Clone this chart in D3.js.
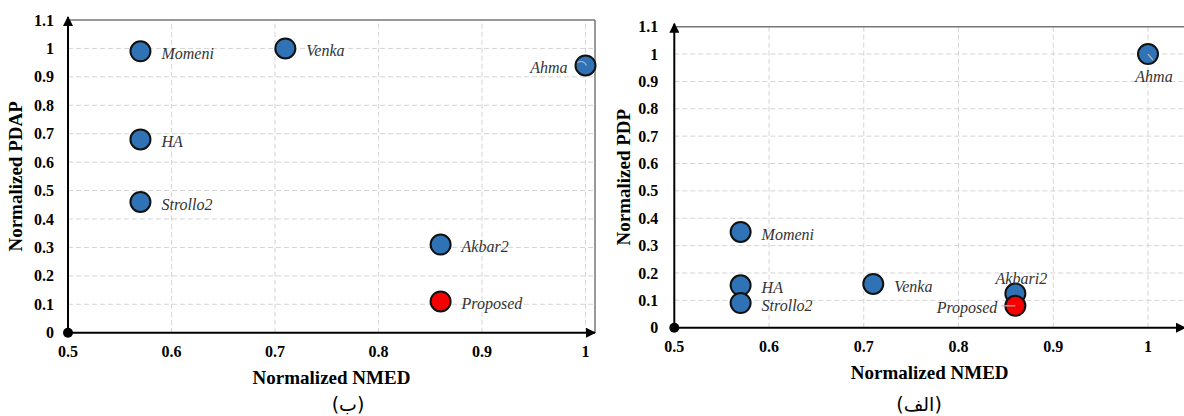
<!DOCTYPE html>
<html><head><meta charset="utf-8">
<script src="https://cdn.jsdelivr.net/npm/d3@7/dist/d3.min.js"></script>
<style>body{margin:0;background:#fff}svg{display:block}</style>
</head><body>
<svg id="c" width="1184" height="416"></svg>
<script>
// Chart (ب): Normalized PDAP vs NMED
const namesB = ["Momeni","Venka","Ahma","HA","Strollo2","Akbar2","Proposed"];
const nmedB  = [0.57, 0.71, 1.00, 0.57, 0.57, 0.86, 0.86];
const pdapB  = [0.99, 1.00, 0.94, 0.68, 0.46, 0.31, 0.11];
const placeB = ["right","right","left","right","right","right","right"];

// Chart (الف): Normalized PDP vs NMED
const namesA = ["Ahma","Momeni","HA","Strollo2","Venka","Akbari2","Proposed"];
const nmedA  = [1.00, 0.57, 0.57, 0.57, 0.71, 0.86, 0.86];
const pdpA   = [1.00, 0.35, 0.155, 0.09, 0.16, 0.125, 0.08];
const placeA = ["below","right","right","right","right","above","left"];

const xTicks = [0.5,0.6,0.7,0.8,0.9,1];
const yTicks = [0,0.1,0.2,0.3,0.4,0.5,0.6,0.7,0.8,0.9,1,1.1];
const xTitle = "Normalized NMED";
const yTitleB = "Normalized PDAP";
const yTitleA = "Normalized PDP";
const captionB = "(ب)";
const captionA = "(الف)";

const SERIF = "'Liberation Serif','Times New Roman','DejaVu Serif',serif";
const svg = d3.select("#c");
const defs = svg.append("defs");
defs.append("marker").attr("id","arr").attr("viewBox","0 0 10 10").attr("refX",9).attr("refY",5)
  .attr("markerWidth",10).attr("markerHeight",10).attr("markerUnits","userSpaceOnUse").attr("orient","auto")
  .append("path").attr("d","M0,0L10,5L0,10z").attr("fill","#000");

function drawChart(cfg){
  const g = svg.append("g");
  const x = d3.scaleLinear().domain([0.5,1]).range([cfg.x0,cfg.x1]);
  const y = d3.scaleLinear().domain([0,1.1]).range([cfg.y0,cfg.yTop]);
  const right = cfg.right;
  // grid
  g.selectAll(".hg").data(yTicks.filter(d=>d>0 && d<1.05)).join("line")
    .attr("x1",x(0.5)).attr("x2",right).attr("y1",d=>y(d)).attr("y2",d=>y(d))
    .attr("stroke","#d4d4d4").attr("stroke-width",1).attr("stroke-dasharray","5,3");
  g.selectAll(".vg").data(xTicks.filter(d=>d>0.5)).join("line")
    .attr("x1",d=>x(d)).attr("x2",d=>x(d)).attr("y1",y(0)).attr("y2",y(1.1))
    .attr("stroke","#d4d4d4").attr("stroke-width",1).attr("stroke-dasharray","5,3");
  // border top / right
  g.append("line").attr("x1",x(0.5)).attr("x2",right).attr("y1",y(1.1)).attr("y2",y(1.1))
    .attr("stroke","#777").attr("stroke-width",1.5);
  if(cfg.rightBorder) g.append("line").attr("x1",right).attr("x2",right).attr("y1",y(1.1)).attr("y2",y(0))
    .attr("stroke","#777").attr("stroke-width",1.5);
  // axes
  g.append("line").attr("x1",x(0.5)).attr("x2",right).attr("y1",y(0)).attr("y2",y(0))
    .attr("stroke","#000").attr("stroke-width",2).attr("marker-end","url(#arr)");
  g.append("line").attr("x1",x(0.5)).attr("x2",x(0.5)).attr("y1",y(0)).attr("y2",y(1.1)-3)
    .attr("stroke","#000").attr("stroke-width",2).attr("marker-end","url(#arr)");
  g.append("circle").attr("cx",x(0.5)).attr("cy",y(0)).attr("r",5).attr("fill","#000");
  // tick labels
  g.selectAll(".xt").data(xTicks).join("text")
    .attr("x",d=>x(d)).attr("y",y(0)+24).attr("text-anchor","middle")
    .attr("font-family",SERIF).attr("font-weight","bold").attr("font-size",16)
    .text(d=>d3.format("")(d));
  g.selectAll(".yt").data(yTicks).join("text")
    .attr("x",x(0.5)-cfg.yLabOff).attr("y",d=>y(d)).attr("dy","0.35em").attr("text-anchor","end")
    .attr("font-family",SERIF).attr("font-weight","bold").attr("font-size",16)
    .text(d=>d3.format("")(d));
  // titles
  g.append("text").attr("x",(x(0.5)+right)/2).attr("y",y(0)+51).attr("text-anchor","middle")
    .attr("font-family",SERIF).attr("font-weight","bold").attr("font-size",19).text(xTitle);
  g.append("text").attr("transform",`translate(${cfg.yTitleX},${(y(0)+y(1.1))/2}) rotate(-90)`)
    .attr("text-anchor","middle").attr("font-family",SERIF).attr("font-weight","bold")
    .attr("font-size",19).text(cfg.yTitle);
  g.append("text").attr("x",cfg.capX).attr("y",411).attr("text-anchor","middle")
    .attr("font-family","'DejaVu Sans',sans-serif").attr("font-size",19).text(cfg.caption);
  // points
  const data = cfg.names.map((n,i)=>({n, vx:cfg.xs[i], vy:cfg.ys[i], p:cfg.place[i]}));
  const order = data.slice().sort((a,b)=> (a.n==="Proposed") - (b.n==="Proposed"));
  g.selectAll(".pt").data(order).join("circle")
    .attr("cx",d=>x(d.vx)).attr("cy",d=>y(d.vy)).attr("r",10)
    .attr("fill",d=>d.n==="Proposed"?"#f40000":"#2f73b6").attr("stroke","#111").attr("stroke-width",2);
  // leader ticks for labels near the point
  data.filter(d=>d.n==="Ahma").forEach(d=>{
    const cx=x(d.vx), cy=y(d.vy);
    if(d.p==="left") g.append("path").attr("d",`M${cx-8},${cy-3}Q${cx-2},${cy-6} ${cx+1},${cy}`)
      .attr("fill","none").attr("stroke","#bbb").attr("stroke-width",1.2);
    else g.append("line").attr("x1",cx).attr("y1",cy).attr("x2",cx+5).attr("y2",cy+6)
      .attr("stroke","#bbb").attr("stroke-width",1.2);
  });
  data.filter(d=>d.n==="Proposed" && d.p==="left").forEach(d=>{
    const cx=x(d.vx), cy=y(d.vy);
    g.append("line").attr("x1",cx-14).attr("y1",cy).attr("x2",cx).attr("y2",cy)
      .attr("stroke","#bbb").attr("stroke-width",1.2);
  });
  g.selectAll(".lb").data(data).join("text")
    .attr("x",d=>{const cx=x(d.vx); return d.p==="right"?cx+21:d.p==="left"?cx-18:cx+6;})
    .attr("y",d=>{const cy=y(d.vy); return d.p==="above"?cy-15:d.p==="below"?cy+22:cy+2;})
    .attr("dy","0.35em")
    .attr("text-anchor",d=>d.p==="right"?"start":d.p==="left"?"end":"middle")
    .attr("font-family",SERIF).attr("font-style","italic").attr("font-size",16)
    .attr("fill","#333").text(d=>d.n);
}

drawChart({x0:68,x1:585.5,y0:332.7,yTop:20,right:595,rightBorder:true,yLabOff:14,yTitleX:22,
  yTitle:yTitleB,caption:captionB,capX:348,names:namesB,xs:nmedB,ys:pdapB,place:placeB});
drawChart({x0:674.3,x1:1148,y0:327.7,yTop:26.7,right:1185,rightBorder:false,yLabOff:16,yTitleX:630,
  yTitle:yTitleA,caption:captionA,capX:919,names:namesA,xs:nmedA,ys:pdpA,place:placeA});
</script>
</body></html>
